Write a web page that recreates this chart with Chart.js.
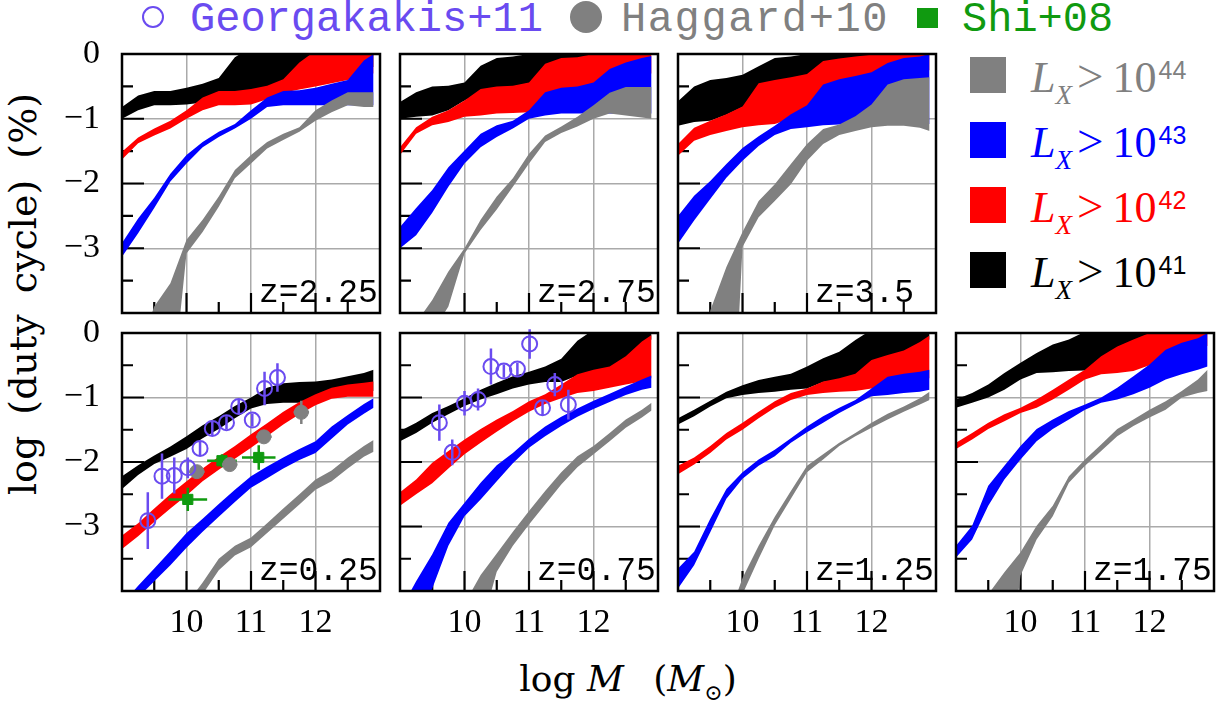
<!DOCTYPE html>
<html>
<head>
<meta charset="utf-8">
<script src="https://cdn.jsdelivr.net/npm/chart.js@4.4.1/dist/chart.umd.min.js"></script>
<style>
  body { margin: 0; background: #fff; width: 1216px; height: 706px; overflow: hidden; position: relative; }
  canvas { position: absolute; }
  .t { position: absolute; white-space: nowrap; line-height: 1; }
  .mono { font-family: 'Liberation Mono', monospace; font-size: 42px; }
  .lx { font-family: 'Liberation Serif', serif; font-size: 44px; }
  .lx .sub { font-style: italic; font-size: 27px; position: relative; top: 12px; }
  .lx .gt { margin-left: 5px; font-size: 47px; }
  .lx .ten { margin-left: 9px; }
  .lx .sup { font-family: 'Liberation Sans', sans-serif; font-size: 25px; position: relative; top: -13px; margin-left: 2px; }
  .sw { position: absolute; width: 36px; height: 36px; left: 970px; }
  .ttl { font-family: 'DejaVu Serif', serif; }
</style>
</head>
<body>

<!-- top legend -->
<div style="position:absolute;left:142px;top:6px;width:22px;height:22px;border:2.5px solid #6a4bf0;border-radius:50%;box-sizing:border-box"></div>
<div class="t mono" style="left:190px;top:-1px;color:#6a4bf0">Georgakakis+11</div>
<div style="position:absolute;left:570px;top:1px;width:32px;height:32px;background:#808080;border-radius:50%"></div>
<div class="t mono" style="left:621px;top:-1px;color:#808080;letter-spacing:1.6px">Haggard+10</div>
<div style="position:absolute;left:917px;top:8px;width:21px;height:20px;background:#109a10"></div>
<div class="t mono" style="left:962px;top:-1px;color:#109a10">Shi+08</div>

<!-- right legend -->
<div class="sw" style="top:57px;background:#808080"></div>
<div class="sw" style="top:122px;background:#0000ff"></div>
<div class="sw" style="top:187px;background:#ff0000"></div>
<div class="sw" style="top:252px;background:#000000"></div>
<div class="t lx" style="left:1031px;top:53px;color:#808080"><i>L</i><span class="sub">X</span><span class="gt">&gt;</span><span class="ten">10</span><span class="sup">44</span></div>
<div class="t lx" style="left:1031px;top:118px;color:#0000ff"><i>L</i><span class="sub">X</span><span class="gt">&gt;</span><span class="ten">10</span><span class="sup">43</span></div>
<div class="t lx" style="left:1031px;top:183px;color:#ff0000"><i>L</i><span class="sub">X</span><span class="gt">&gt;</span><span class="ten">10</span><span class="sup">42</span></div>
<div class="t lx" style="left:1031px;top:248px;color:#000000"><i>L</i><span class="sub">X</span><span class="gt">&gt;</span><span class="ten">10</span><span class="sup">41</span></div>

<!-- axis titles -->
<div class="t ttl" style="left:23px;top:294px;font-size:38px;word-spacing:9px;transform:translate(-50%,-50%) rotate(-90deg)">log (duty cycle) (%)</div>
<div class="t ttl" style="left:628px;top:661px;font-size:36px;transform:translateX(-50%)">log <i>M</i>&ensp;&nbsp;(<i>M</i><span style="font-size:22px;position:relative;top:9px">&#8857;</span>)</div>

<script>
// halo mass grid (log M) shared by every band
const massGrid = [9, 9.25, 9.5, 9.75, 10, 10.25, 10.5, 10.75, 11, 11.25, 11.5, 11.75, 12, 12.25, 12.5, 12.75, 12.9];

// axis ticks
const xTickVals = [9, 9.5, 10, 10.5, 11, 11.5, 12, 12.5, 13];
const xTickLabels = [10, 11, 12];
const yTickVals = [-4, -3.5, -3, -2.5, -2, -1.5, -1, -0.5, 0];
const yTickLabels = [0, -1, -2, -3];

// z = 2.25
const z225_lx44_lo = [-6, -6, -6, -5.5, -3.08, -2.75, -2.36, -1.92, -1.69, -1.46, -1.33, -1.2, -1.03, -0.9, -0.79, -0.82, -0.82];
const z225_lx44_hi = [-4.6, -4.6, -3.9, -3.54, -2.87, -2.56, -2.2, -1.79, -1.56, -1.36, -1.23, -1.13, -0.87, -0.72, -0.59, -0.59, -0.59];
const z225_lx43_lo = [-3.13, -2.77, -2.38, -1.97, -1.69, -1.44, -1.28, -1.15, -1.0, -0.82, -0.79, -0.79, -0.79, -0.79, -0.79, -0.79, -0.79];
const z225_lx43_hi = [-2.92, -2.54, -2.22, -1.85, -1.56, -1.36, -1.2, -1.08, -0.87, -0.67, -0.57, -0.56, -0.52, -0.46, -0.4, -0.1, 0];
const z225_lx42_lo = [-1.63, -1.38, -1.26, -1.15, -1.0, -0.87, -0.79, -0.79, -0.78, -0.7, -0.6, -0.55, -0.5, -0.45, -0.4, -0.3, -0.3];
const z225_lx42_hi = [-1.51, -1.29, -1.15, -1.03, -0.87, -0.67, -0.57, -0.57, -0.54, -0.49, -0.39, -0.13, 0.05, 0.1, 0.1, 0.1, 0.1];
const z225_lx41_lo = [-1.0, -0.87, -0.79, -0.79, -0.78, -0.75, -0.7, -0.7, -0.65, -0.6, -0.5, -0.4, -0.3, -0.2, -0.2, -0.2, -0.2];
const z225_lx41_hi = [-0.82, -0.64, -0.57, -0.57, -0.52, -0.46, -0.37, -0.05, 0.1, 0.1, 0.1, 0.1, 0.1, 0.1, 0.1, 0.1, 0.1];

// z = 2.75
const z275_lx44_lo = [-6, -6, -4.3, -3.9, -3.08, -2.72, -2.4, -2.05, -1.69, -1.36, -1.22, -1.12, -1.0, -0.92, -0.95, -0.98, -1.0];
const z275_lx44_hi = [-4.6, -4.15, -3.8, -3.36, -3.0, -2.56, -2.2, -1.92, -1.54, -1.26, -1.12, -0.97, -0.79, -0.6, -0.51, -0.51, -0.51];
const z275_lx43_lo = [-3.0, -2.8, -2.45, -2.05, -1.69, -1.44, -1.28, -1.15, -1.0, -0.95, -0.92, -0.92, -0.92, -0.92, -0.92, -0.92, -0.92];
const z275_lx43_hi = [-2.67, -2.38, -2.1, -1.75, -1.49, -1.23, -1.1, -1.03, -0.87, -0.59, -0.52, -0.5, -0.44, -0.23, -0.13, -0.06, -0.03];
const z275_lx42_lo = [-1.56, -1.23, -1.1, -1.05, -0.97, -0.95, -0.92, -0.91, -0.9, -0.8, -0.7, -0.6, -0.5, -0.4, -0.35, -0.3, -0.3];
const z275_lx42_hi = [-1.44, -1.13, -0.97, -0.87, -0.72, -0.54, -0.5, -0.49, -0.44, -0.15, -0.06, -0.05, 0, 0.05, 0.05, 0.05, 0.05];
const z275_lx41_lo = [-1.0, -0.97, -0.95, -0.87, -0.72, -0.6, -0.55, -0.5, -0.45, -0.3, -0.2, -0.1, -0.05, 0, 0, 0, 0];
const z275_lx41_hi = [-0.74, -0.59, -0.5, -0.49, -0.44, -0.18, -0.06, -0.04, 0, 0.1, 0.1, 0.1, 0.1, 0.1, 0.1, 0.1, 0.1];

// z = 3.5
const z350_lx44_lo = [-8, -8, -8, -8, -2.98, -2.52, -2.27, -2.01, -1.65, -1.39, -1.25, -1.19, -1.13, -1.11, -1.11, -1.14, -1.19];
const z350_lx44_hi = [-6, -6, -3.96, -3.29, -2.75, -2.27, -2.01, -1.7, -1.39, -1.16, -1.09, -0.96, -0.78, -0.47, -0.39, -0.37, -0.36];
const z350_lx43_lo = [-2.93, -2.57, -2.24, -1.91, -1.65, -1.42, -1.25, -1.16, -1.13, -1.1, -1.09, -1.08, -1.08, -1.08, -1.08, -1.08, -1.08];
const z350_lx43_hi = [-2.5, -2.19, -1.96, -1.7, -1.45, -1.27, -1.11, -0.93, -0.79, -0.47, -0.39, -0.34, -0.28, -0.14, -0.06, -0.04, 0];
const z350_lx42_lo = [-1.57, -1.34, -1.25, -1.19, -1.13, -1.1, -1.08, -1.0, -0.9, -0.7, -0.6, -0.5, -0.4, -0.35, -0.3, -0.25, -0.25];
const z350_lx42_hi = [-1.39, -1.14, -1.03, -0.93, -0.81, -0.45, -0.4, -0.36, -0.31, -0.11, -0.07, -0.04, -0.01, 0, 0.05, 0.05, 0.05];
const z350_lx41_lo = [-1.11, -1.05, -1.03, -0.94, -0.82, -0.6, -0.5, -0.45, -0.4, -0.3, -0.2, -0.15, -0.1, -0.05, 0, 0, 0];
const z350_lx41_hi = [-0.73, -0.5, -0.4, -0.37, -0.32, -0.19, -0.06, -0.04, 0, 0.1, 0.1, 0.1, 0.1, 0.1, 0.1, 0.1, 0.1];

// z = 0.25
const z025_lx44_lo = [-5.5, -5.5, -5.5, -5.5, -5, -4.05, -3.68, -3.45, -3.32, -3.1, -2.88, -2.66, -2.43, -2.3, -2.1, -1.92, -1.84];
const z025_lx44_hi = [-5, -5, -5, -5, -4.2, -3.87, -3.5, -3.3, -3.17, -2.95, -2.72, -2.5, -2.27, -2.13, -1.93, -1.75, -1.66];
const z025_lx43_lo = [-4.5, -4.1, -3.85, -3.6, -3.33, -3.08, -2.85, -2.62, -2.4, -2.25, -2.1, -1.97, -1.86, -1.64, -1.42, -1.25, -1.16];
const z025_lx43_hi = [-4.2, -3.92, -3.65, -3.38, -3.1, -2.88, -2.65, -2.43, -2.22, -2.07, -1.93, -1.8, -1.68, -1.45, -1.27, -1.1, -1.01];
const z025_lx42_lo = [-3.35, -3.15, -2.93, -2.72, -2.52, -2.3, -2.12, -1.95, -1.78, -1.6, -1.42, -1.26, -1.12, -1.02, -0.99, -0.99, -0.99];
const z025_lx42_hi = [-3.14, -2.95, -2.72, -2.5, -2.3, -2.1, -1.92, -1.75, -1.57, -1.4, -1.22, -1.07, -0.95, -0.85, -0.8, -0.77, -0.75];
const z025_lx41_lo = [-2.42, -2.2, -2.03, -1.92, -1.8, -1.63, -1.49, -1.32, -1.17, -1.1, -1.08, -1.08, -1.08, -1.0, -0.95, -0.92, -0.9];
const z025_lx41_hi = [-2.22, -2.05, -1.9, -1.76, -1.6, -1.43, -1.29, -1.13, -1.0, -0.85, -0.78, -0.76, -0.75, -0.72, -0.67, -0.62, -0.57];

// z = 0.75
const z075_lx44_lo = [-6, -6, -6, -6, -6, -4.6, -3.7, -3.3, -2.97, -2.66, -2.35, -2.08, -1.88, -1.68, -1.47, -1.31, -1.2];
const z075_lx44_hi = [-6, -6, -6, -6, -4.2, -3.75, -3.42, -3.08, -2.76, -2.45, -2.16, -1.91, -1.75, -1.55, -1.34, -1.19, -1.08];
const z075_lx43_lo = [-4.6, -4.3, -3.96, -3.3, -2.84, -2.58, -2.3, -2.02, -1.78, -1.6, -1.44, -1.3, -1.18, -1.07, -0.96, -0.88, -0.85];
const z075_lx43_hi = [-4.3, -3.85, -3.43, -2.94, -2.63, -2.32, -2.05, -1.86, -1.64, -1.45, -1.3, -1.17, -1.05, -0.94, -0.83, -0.72, -0.66];
const z075_lx42_lo = [-2.68, -2.5, -2.33, -2.1, -1.88, -1.7, -1.53, -1.37, -1.22, -1.1, -1.01, -0.93, -0.9, -0.85, -0.8, -0.75, -0.7];
const z075_lx42_hi = [-2.47, -2.27, -2.01, -1.83, -1.65, -1.49, -1.34, -1.21, -1.06, -0.95, -0.8, -0.64, -0.57, -0.52, -0.36, -0.13, -0.03];
const z075_lx41_lo = [-1.68, -1.55, -1.39, -1.26, -1.13, -1.03, -0.95, -0.86, -0.8, -0.76, -0.76, -0.66, -0.6, -0.55, -0.4, -0.2, -0.1];
const z075_lx41_hi = [-1.52, -1.39, -1.24, -1.13, -1.01, -0.88, -0.77, -0.67, -0.6, -0.52, -0.4, -0.12, 0.05, 0.1, 0.1, 0.1, 0.1];

// z = 1.25
const z125_lx44_lo = [-6, -6, -6, -6, -4.05, -3.5, -2.98, -2.57, -2.16, -1.96, -1.75, -1.6, -1.47, -1.34, -1.22, -1.11, -1.04];
const z125_lx44_hi = [-6, -6, -6, -4.5, -3.8, -3.3, -2.85, -2.45, -2.06, -1.88, -1.7, -1.55, -1.39, -1.25, -1.14, -1.01, -0.91];
const z125_lx43_lo = [-3.96, -3.6, -3.09, -2.57, -2.26, -2.06, -1.91, -1.7, -1.54, -1.39, -1.24, -1.11, -0.98, -0.96, -0.93, -0.91, -0.88];
const z125_lx43_hi = [-3.65, -3.39, -2.88, -2.42, -2.16, -1.96, -1.81, -1.63, -1.45, -1.29, -1.16, -1.04, -0.86, -0.68, -0.63, -0.6, -0.57];
const z125_lx42_lo = [-2.19, -2.04, -1.86, -1.65, -1.5, -1.32, -1.16, -1.04, -0.96, -0.93, -0.91, -0.9, -0.86, -0.78, -0.75, -0.72, -0.7];
const z125_lx42_hi = [-2.06, -1.93, -1.75, -1.55, -1.39, -1.22, -1.06, -0.93, -0.86, -0.75, -0.7, -0.63, -0.42, -0.34, -0.27, -0.14, -0.04];
const z125_lx41_lo = [-1.42, -1.29, -1.14, -1.01, -0.96, -0.93, -0.91, -0.88, -0.86, -0.76, -0.72, -0.65, -0.45, -0.36, -0.3, -0.2, -0.1];
const z125_lx41_hi = [-1.32, -1.19, -1.05, -0.91, -0.81, -0.73, -0.68, -0.63, -0.52, -0.39, -0.29, -0.11, 0.05, 0.1, 0.1, 0.1, 0.1];

// z = 1.75
const z175_lx44_lo = [-6, -6, -6, -5.8, -3.76, -3.2, -2.84, -2.32, -2.06, -1.83, -1.6, -1.44, -1.31, -1.19, -1.0, -0.93, -0.9];
const z175_lx44_hi = [-6, -6, -4.05, -3.71, -3.4, -2.99, -2.68, -2.22, -1.96, -1.73, -1.49, -1.34, -1.19, -1.06, -0.9, -0.72, -0.57];
const z175_lx43_lo = [-3.48, -3.2, -2.68, -2.27, -1.96, -1.68, -1.49, -1.34, -1.19, -1.08, -1.03, -0.95, -0.85, -0.72, -0.64, -0.57, -0.52];
const z175_lx43_hi = [-3.3, -2.99, -2.37, -2.06, -1.75, -1.49, -1.34, -1.21, -1.11, -1.0, -0.85, -0.67, -0.49, -0.26, -0.15, -0.08, 0];
const z175_lx42_lo = [-1.8, -1.65, -1.49, -1.37, -1.24, -1.16, -1.03, -0.88, -0.72, -0.64, -0.62, -0.59, -0.5, -0.4, -0.3, -0.2, -0.2];
const z175_lx42_hi = [-1.7, -1.55, -1.39, -1.26, -1.16, -1.03, -0.88, -0.72, -0.57, -0.36, -0.21, -0.1, 0.0, 0.05, 0.05, 0.05, 0.05];
const z175_lx41_lo = [-1.16, -1.08, -1.0, -0.88, -0.72, -0.62, -0.61, -0.59, -0.58, -0.5, -0.4, -0.3, -0.2, -0.1, -0.05, 0, 0];
const z175_lx41_hi = [-1.03, -0.93, -0.8, -0.62, -0.46, -0.31, -0.18, -0.1, 0.02, 0.1, 0.1, 0.1, 0.1, 0.1, 0.1, 0.1, 0.1];

// observed duty cycles, z = 0.25 panel
const geo025_x = [9.40, 9.62, 9.81, 10.02, 10.21, 10.40, 10.62, 10.81, 11.02, 11.21, 11.41];
const geo025_y = [-2.91, -2.22, -2.21, -2.09, -1.79, -1.48, -1.39, -1.14, -1.35, -0.86, -0.69];
const geo025_yerr = [0.44, 0.35, 0.28, 0.16, 0.1, 0.1, 0.1, 0.1, 0.1, 0.26, 0.22];
const hag025_x = [10.16, 10.67, 11.2, 11.78];
const hag025_y = [-2.15, -2.04, -1.61, -1.23];
const hag025_xerr = [0.12, 0.12, 0.12, 0.12];
const hag025_yerr = [0.1, 0.1, 0.1, 0.18];
const shi025_x = [10.02, 10.55, 11.12];
const shi025_y = [-2.58, -1.98, -1.93];
const shi025_xerr = [0.3, 0.23, 0.26];
const shi025_yerr = [0.18, 0.1, 0.19];

// observed duty cycles, z = 0.75 panel
const geo075_x = [9.61, 9.81, 10.0, 10.21, 10.41, 10.61, 10.82, 11.01, 11.21, 11.4, 11.61];
const geo075_y = [-1.39, -1.85, -1.09, -1.03, -0.52, -0.59, -0.56, -0.17, -1.16, -0.8, -1.11];
const geo075_yerr = [0.28, 0.2, 0.19, 0.17, 0.28, 0.1, 0.1, 0.23, 0.12, 0.18, 0.23];

const GEO = '#6a4bf0', HAG = '#808080', SHI = '#109a10';
const bandColors = { lx44: '#808080', lx43: '#0000ff', lx42: '#ff0000', lx41: '#000000' };
const bandOrder = { lx44: 1, lx43: 2, lx42: 3, lx41: 4 };

const panelLeft = [122, 400, 678, 956];
const panelTop = [54, 333];
const panelH = [259, 258];
const PW = 258, PAD_L = 110, PAD_R = 14, PAD_T = 30, PAD_B = 60;

const pts = (xs, ys) => xs.map((x, i) => ({ x: x, y: ys[i] }));

const panels = [
  { label: 'z=2.25', col: 0, row: 0, bands: { lx41: [z225_lx41_lo, z225_lx41_hi], lx42: [z225_lx42_lo, z225_lx42_hi], lx43: [z225_lx43_lo, z225_lx43_hi], lx44: [z225_lx44_lo, z225_lx44_hi] } },
  { label: 'z=2.75', col: 1, row: 0, bands: { lx41: [z275_lx41_lo, z275_lx41_hi], lx42: [z275_lx42_lo, z275_lx42_hi], lx43: [z275_lx43_lo, z275_lx43_hi], lx44: [z275_lx44_lo, z275_lx44_hi] } },
  { label: 'z=3.5', col: 2, row: 0, bands: { lx41: [z350_lx41_lo, z350_lx41_hi], lx42: [z350_lx42_lo, z350_lx42_hi], lx43: [z350_lx43_lo, z350_lx43_hi], lx44: [z350_lx44_lo, z350_lx44_hi] } },
  { label: 'z=0.25', col: 0, row: 1, bands: { lx41: [z025_lx41_lo, z025_lx41_hi], lx42: [z025_lx42_lo, z025_lx42_hi], lx43: [z025_lx43_lo, z025_lx43_hi], lx44: [z025_lx44_lo, z025_lx44_hi] },
    points: [
      { data: pts(geo025_x, geo025_y), yerr: geo025_yerr, color: GEO, style: 'circle', open: true, order: -3 },
      { data: pts(hag025_x, hag025_y), xerr: hag025_xerr, yerr: hag025_yerr, color: HAG, style: 'circle', order: -2 },
      { data: pts(shi025_x, shi025_y), xerr: shi025_xerr, yerr: shi025_yerr, color: SHI, style: 'rect', order: -1 }
    ] },
  { label: 'z=0.75', col: 1, row: 1, bands: { lx41: [z075_lx41_lo, z075_lx41_hi], lx42: [z075_lx42_lo, z075_lx42_hi], lx43: [z075_lx43_lo, z075_lx43_hi], lx44: [z075_lx44_lo, z075_lx44_hi] },
    points: [
      { data: pts(geo075_x, geo075_y), yerr: geo075_yerr, color: GEO, style: 'circle', open: true, order: -3 }
    ] },
  { label: 'z=1.25', col: 2, row: 1, bands: { lx41: [z125_lx41_lo, z125_lx41_hi], lx42: [z125_lx42_lo, z125_lx42_hi], lx43: [z125_lx43_lo, z125_lx43_hi], lx44: [z125_lx44_lo, z125_lx44_hi] } },
  { label: 'z=1.75', col: 3, row: 1, bands: { lx41: [z175_lx41_lo, z175_lx41_hi], lx42: [z175_lx42_lo, z175_lx42_hi], lx43: [z175_lx43_lo, z175_lx43_hi], lx44: [z175_lx44_lo, z175_lx44_hi] } }
];

// inward ticks, error bars, frame and the redshift label
const panelDecor = {
  id: 'panelDecor',
  beforeDatasetsDraw(chart) {
    const { ctx, chartArea: a, scales: { x, y } } = chart;
    ctx.save();
    ctx.strokeStyle = '#000';
    ctx.lineWidth = 2.2;
    ctx.beginPath();
    xTickVals.forEach(v => {
      if (v <= 9 || v >= 13) return;
      const px = x.getPixelForValue(v);
      const len = Number.isInteger(v) ? 20 : 11;
      ctx.moveTo(px, a.bottom);
      ctx.lineTo(px, a.bottom - len);
    });
    yTickVals.forEach(v => {
      if (v <= -4 || v >= 0) return;
      const py = y.getPixelForValue(v);
      const len = Number.isInteger(v) ? 22 : 11;
      ctx.moveTo(a.left, py);
      ctx.lineTo(a.left + len, py);
    });
    ctx.stroke();
    ctx.restore();
  },
  afterDatasetDraw(chart, args) {
    const ds = chart.data.datasets[args.index];
    if (!ds.yerr && !ds.xerr) return;
    const { ctx, scales: { x, y } } = chart;
    ctx.save();
    ctx.strokeStyle = ds.borderColor;
    ctx.lineWidth = 2.5;
    ctx.beginPath();
    ds.data.forEach((p, i) => {
      if (ds.yerr) {
        ctx.moveTo(x.getPixelForValue(p.x), y.getPixelForValue(p.y - ds.yerr[i]));
        ctx.lineTo(x.getPixelForValue(p.x), y.getPixelForValue(p.y + ds.yerr[i]));
      }
      if (ds.xerr) {
        ctx.moveTo(x.getPixelForValue(p.x - ds.xerr[i]), y.getPixelForValue(p.y));
        ctx.lineTo(x.getPixelForValue(p.x + ds.xerr[i]), y.getPixelForValue(p.y));
      }
    });
    ctx.stroke();
    ctx.restore();
  },
  afterDatasetsDraw(chart, args, opts) {
    const { ctx, chartArea: a } = chart;
    ctx.save();
    ctx.strokeStyle = '#000';
    ctx.lineWidth = 2.5;
    ctx.strokeRect(a.left, a.top, a.right - a.left, a.bottom - a.top);
    ctx.fillStyle = '#000';
    ctx.font = '33px "Liberation Mono"';
    ctx.textAlign = 'left';
    ctx.textBaseline = 'alphabetic';
    ctx.fillText(opts.label, a.left + 137, a.bottom - 11);
    ctx.restore();
  }
};

const zeroPad = s => { s.paddingLeft = 0; s.paddingRight = 0; s.paddingTop = 0; s.paddingBottom = 0; };
const gridColor = (v, lo, hi) => (Number.isInteger(v) && v > lo && v < hi) ? '#aaaaaa' : 'rgba(0,0,0,0)';

panels.forEach(p => {
  const ph = panelH[p.row];
  const cv = document.createElement('canvas');
  cv.width = PAD_L + PW + PAD_R;
  cv.height = PAD_T + ph + PAD_B;
  cv.style.left = (panelLeft[p.col] - PAD_L) + 'px';
  cv.style.top = (panelTop[p.row] - PAD_T) + 'px';
  document.body.appendChild(cv);

  const datasets = [];
  ['lx41', 'lx42', 'lx43', 'lx44'].forEach(k => {
    const [lo, hi] = p.bands[k];
    datasets.push({ data: pts(massGrid, lo), fill: false, order: bandOrder[k], borderWidth: 0, borderColor: 'rgba(0,0,0,0)', pointRadius: 0 });
    datasets.push({ data: pts(massGrid, hi), fill: '-1', order: bandOrder[k], backgroundColor: bandColors[k], borderWidth: 0, borderColor: 'rgba(0,0,0,0)', pointRadius: 0 });
  });
  (p.points || []).forEach(s => {
    datasets.push({
      data: s.data, showLine: false, order: s.order, xerr: s.xerr, yerr: s.yerr,
      pointStyle: s.style, pointRadius: s.style === 'rect' ? 7.2 : (s.open ? 7.5 : 7),
      pointBorderWidth: s.open ? 2 : 1, borderColor: s.color, pointBorderColor: s.color,
      pointBackgroundColor: s.open ? 'rgba(0,0,0,0)' : s.color, fill: false
    });
  });

  new Chart(cv, {
    type: 'line',
    data: { datasets: datasets },
    options: {
      responsive: false, animation: false, events: [], devicePixelRatio: 1,
      layout: { padding: { left: 0, right: PAD_R, top: PAD_T, bottom: 0 } },
      elements: { line: { tension: 0 } },
      plugins: { legend: { display: false }, tooltip: { enabled: false }, panelDecor: { label: p.label } },
      scales: {
        x: {
          type: 'linear', min: 9, max: 13,
          afterBuildTicks: s => { s.ticks = xTickVals.map(v => ({ value: v })); },
          afterFit: s => { s.height = PAD_B; zeroPad(s); },
          ticks: {
            display: p.row === 1, autoSkip: false, maxRotation: 0, padding: 12, color: '#000',
            font: { family: 'Liberation Serif', size: 34 },
            callback: v => xTickLabels.includes(v) ? String(v) : ''
          },
          grid: { drawTicks: false, lineWidth: 1.5, color: c => gridColor(c.tick && c.tick.value, 9, 13) },
          border: { display: false }
        },
        y: {
          type: 'linear', min: -4, max: 0,
          afterBuildTicks: s => { s.ticks = yTickVals.map(v => ({ value: v })); },
          afterFit: s => { s.width = PAD_L; zeroPad(s); },
          ticks: {
            display: p.col === 0, autoSkip: false, padding: 22, color: '#000',
            font: { family: 'Liberation Serif', size: 34 },
            callback: v => yTickLabels.includes(v) ? (v < 0 ? '\u2212' + Math.abs(v) : String(v)) : ''
          },
          grid: { drawTicks: false, lineWidth: 1.5, color: c => gridColor(c.tick && c.tick.value, -4, 0) },
          border: { display: false }
        }
      }
    },
    plugins: [panelDecor]
  });
});
</script>
</body>
</html>
